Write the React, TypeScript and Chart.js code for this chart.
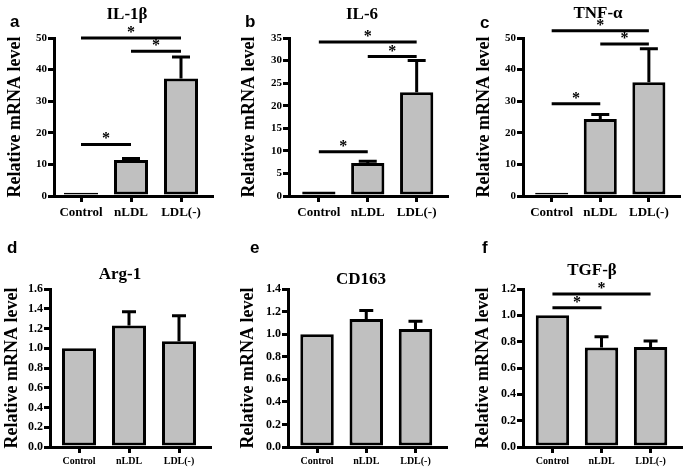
import React, { useEffect, useRef } from "react";
import { Chart, registerables } from "chart.js";

Chart.register(...registerables);

// ---------- data ----------
const categories = ["Control", "nLDL", "LDL(-)"];

const il1bMean = [1.0, 11.4, 37.2];
const il1bErr = [0, 0.5, 6.8];
const il6Mean = [1.0, 7.3, 23.0];
const il6Err = [0, 0.4, 7.0];
const tnfMean = [1.0, 24.4, 36.0];
const tnfErr = [0, 1.4, 10.6];
const arg1Mean = [1.0, 1.23, 1.07];
const arg1Err = [0, 0.14, 0.26];
const cd163Mean = [1.0, 1.135, 1.045];
const cd163Err = [0, 0.075, 0.07];
const tgfbMean = [1.0, 0.755, 0.76];
const tgfbErr = [0, 0.083, 0.045];

// significance comparisons: [fromIndex, toIndex, height in data units]
const il1bSig = [[0, 2, 50], [1, 2, 45.8], [0, 1, 16.3]];
const il6Sig = [[0, 2, 34.1], [1, 2, 30.9], [0, 1, 9.8]];
const tnfSig = [[0, 2, 52.3], [1, 2, 48.1], [0, 1, 29.2]];
const arg1Sig: number[][] = [];
const cd163Sig: number[][] = [];
const tgfbSig = [[0, 2, 1.162], [0, 1, 1.057]];

const panelTitles = ["IL-1β", "IL-6", "TNF-α", "Arg-1", "CD163", "TGF-β"];
const panelLetters = ["a", "b", "c", "d", "e", "f"];
const yMaxes = [50, 35, 50, 1.6, 1.4, 1.2];
const ySteps = [10, 5, 10, 0.2, 0.2, 0.2];
const yDecimals = [0, 0, 0, 1, 1, 1];
const yAxisTitle = "Relative mRNA level";

const meansList = [il1bMean, il6Mean, tnfMean, arg1Mean, cd163Mean, tgfbMean];
const errsList = [il1bErr, il6Err, tnfErr, arg1Err, cd163Err, tgfbErr];
const sigList = [il1bSig, il6Sig, tnfSig, arg1Sig, cd163Sig, tgfbSig];

// ---------- layout (positions / styles) ----------
const X_MAX = 2.62;
const layouts = [
  { x: 0, y: 0, w: 228, h: 230, left: 54, right: 212, xMin: -0.54, top: 38, bottom: 196, yTitlePad: 6, titleX: 127, titleY: 13, letterX: 10, letterY: 27, xFont: 13, yFont: 11, cap: 9, xPad: 3 },
  { x: 228, y: 0, w: 227, h: 230, left: 61, right: 219, xMin: -0.61, top: 38, bottom: 196, yTitlePad: 12, titleX: 134, titleY: 13, letterX: 17, letterY: 27, xFont: 13, yFont: 11, cap: 9, xPad: 3 },
  { x: 455, y: 0, w: 230, h: 230, left: 68, right: 224, xMin: -0.59, top: 38, bottom: 196, yTitlePad: 20, titleX: 143, titleY: 12, letterX: 25, letterY: 28, xFont: 13, yFont: 11, cap: 9, xPad: 3 },
  { x: 0, y: 230, w: 228, h: 242, left: 50, right: 210, xMin: -0.58, top: 59, bottom: 217, yTitlePad: 3.5, titleX: 120, titleY: 43, letterX: 7, letterY: 23, xFont: 10, yFont: 12, cap: 7, xPad: 2 },
  { x: 228, y: 230, w: 227, h: 242, left: 60, right: 218, xMin: -0.59, top: 59, bottom: 217, yTitlePad: 11, titleX: 133, titleY: 48, letterX: 22, letterY: 23, xFont: 10, yFont: 12, cap: 7, xPad: 2 },
  { x: 455, y: 230, w: 230, h: 242, left: 68, right: 226, xMin: -0.6, top: 59, bottom: 217, yTitlePad: 19.5, titleX: 137, titleY: 39, letterX: 27, letterY: 23, xFont: 10, yFont: 12, cap: 7, xPad: 2 },
];

const SERIF = "'Liberation Serif', 'Times New Roman', serif";
const SANS = "'Liberation Sans', Arial, sans-serif";

function Panel({ idx }: { idx: number }) {
  const ref = useRef<HTMLCanvasElement>(null);
  const L = layouts[idx];

  useEffect(() => {
    if (!ref.current) return;
    const means = meansList[idx];
    const errs = errsList[idx];
    const sigs = sigList[idx];

    const decor = {
      id: "decor" + idx,
      afterDatasetsDraw(chart: any) {
        const ctx = chart.ctx;
        const xs = chart.scales.x;
        const ys = chart.scales.y;
        ctx.save();
        ctx.strokeStyle = "#000";
        ctx.lineWidth = 3;
        means.forEach((m, i) => {
          const e = errs[i];
          if (!e) return;
          const px = xs.getPixelForValue(i);
          const y0 = ys.getPixelForValue(m);
          const y1 = ys.getPixelForValue(m + e);
          ctx.beginPath();
          ctx.moveTo(px, y0);
          ctx.lineTo(px, y1);
          ctx.moveTo(px - L.cap, y1);
          ctx.lineTo(px + L.cap, y1);
          ctx.stroke();
        });
        ctx.restore();
      },
      afterDraw(chart: any) {
        const ctx = chart.ctx;
        const xs = chart.scales.x;
        const ys = chart.scales.y;
        ctx.save();
        ctx.strokeStyle = "#000";
        ctx.fillStyle = "#000";
        ctx.lineWidth = 3;
        sigs.forEach(([a, b, h]) => {
          const x1 = xs.getPixelForValue(a);
          const x2 = xs.getPixelForValue(b);
          const y = ys.getPixelForValue(h);
          ctx.beginPath();
          ctx.moveTo(x1, y);
          ctx.lineTo(x2, y);
          ctx.stroke();
          ctx.font = `bold 16px ${SERIF}`;
          ctx.textAlign = "center";
          ctx.textBaseline = "alphabetic";
          ctx.fillText("*", (x1 + x2) / 2, y - 1);
        });
        // panel title
        ctx.font = `bold 17px ${SERIF}`;
        ctx.textAlign = "center";
        ctx.textBaseline = "alphabetic";
        ctx.fillText(panelTitles[idx], L.titleX, L.titleY + 5.6);
        // panel letter
        ctx.font = `bold 17px ${SANS}`;
        ctx.textAlign = "left";
        ctx.fillText(panelLetters[idx], L.letterX, L.letterY);
        ctx.restore();
      },
    };

    const gridOpts = {
      display: true,
      drawOnChartArea: false,
      drawTicks: true,
      tickLength: 6,
      lineWidth: 3,
      color: "#000",
      offset: false,
    };

    const chart = new Chart(ref.current, {
      type: "bar",
      data: {
        datasets: [
          {
            data: means.map((v, i) => ({ x: i, y: v })),
            backgroundColor: "#c0c0c0",
            borderColor: "#000",
            borderWidth: 3,
            borderSkipped: false,
            barPercentage: 0.68,
            categoryPercentage: 1,
          },
        ],
      },
      options: {
        animation: false,
        responsive: false,
        devicePixelRatio: 1,
        layout: { padding: { top: L.top, right: L.w - L.right, left: 0, bottom: 0 } },
        plugins: {
          legend: { display: false },
          tooltip: { enabled: false },
          title: { display: false },
        },
        scales: {
          x: {
            type: "linear",
            min: L.xMin,
            max: X_MAX,
            offset: false,
            z: 1,
            grid: gridOpts,
            border: { display: true, color: "#000", width: 3 },
            ticks: {
              stepSize: 1,
              includeBounds: false,
              color: "#000",
              font: { family: SERIF, weight: "bold", size: L.xFont },
              padding: L.xPad,
              maxRotation: 0,
              autoSkip: false,
              callback: (v: any) => categories[Math.round(Number(v))] ?? "",
            },
            afterFit: (s: any) => {
              s.height = L.h - L.bottom;
            },
          },
          y: {
            min: 0,
            max: yMaxes[idx],
            z: 1,
            grid: gridOpts,
            border: { display: true, color: "#000", width: 3 },
            ticks: {
              stepSize: ySteps[idx],
              color: "#000",
              padding: 1,
              font: { family: SERIF, weight: "bold", size: L.yFont },
              callback: (v: any) => Number(v).toFixed(yDecimals[idx]),
            },
            title: {
              display: true,
              text: yAxisTitle,
              color: "#000",
              font: { family: SERIF, weight: "bold", size: 18, lineHeight: 1 },
              padding: { top: L.yTitlePad, bottom: 0 },
            },
            afterFit: (s: any) => {
              s.width = L.left;
            },
          },
        },
      } as any,
      plugins: [decor],
    });
    return () => chart.destroy();
  }, [idx]);

  return (
    <canvas
      ref={ref}
      width={L.w}
      height={L.h}
      style={{ position: "absolute", left: L.x, top: L.y, width: L.w, height: L.h }}
    />
  );
}

export default function App() {
  return (
    <div style={{ position: "absolute", left: 0, top: 0, width: 685, height: 472, background: "#fff" }}>
      {layouts.map((_, i) => (
        <Panel key={i} idx={i} />
      ))}
    </div>
  );
}
